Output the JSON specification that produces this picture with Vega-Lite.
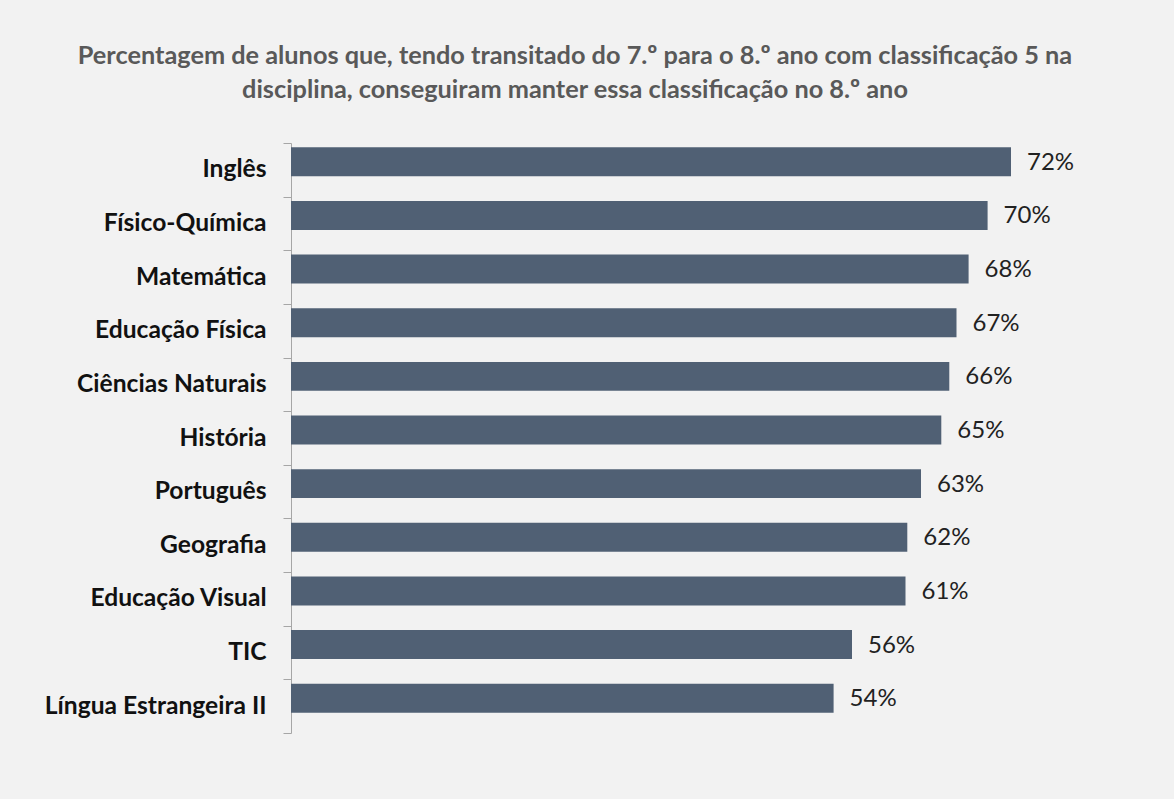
{
  "$schema": "https://vega.github.io/schema/vega-lite/v6.json",
  "autosize": {"type": "none"},
  "width": 870,
  "height": 590,
  "padding": {"left": 291, "top": 143, "right": 13, "bottom": 66},
  "background": "#F2F2F2",
  "title": {
    "text": ["Percentagem de alunos que, tendo transitado do 7.º para o 8.º ano com classificação 5 na", "disciplina, conseguiram manter essa classificação no 8.º ano"],
    "anchor": "middle",
    "frame": "group",
    "dx": -151,
    "offset": 27,
    "font": "Lato",
    "fontSize": 25.3,
    "fontWeight": "bold",
    "color": "#595959",
    "lineHeight": 34
  },
  "data": {
    "values": [
      {"disciplina": "Inglês", "valor": 0.7200},
      {"disciplina": "Físico-Química", "valor": 0.6966},
      {"disciplina": "Matemática", "valor": 0.6776},
      {"disciplina": "Educação Física", "valor": 0.6655},
      {"disciplina": "Ciências Naturais", "valor": 0.6583},
      {"disciplina": "História", "valor": 0.6503},
      {"disciplina": "Português", "valor": 0.6300},
      {"disciplina": "Geografia", "valor": 0.6163},
      {"disciplina": "Educação Visual", "valor": 0.6145},
      {"disciplina": "TIC", "valor": 0.5610},
      {"disciplina": "Língua Estrangeira II", "valor": 0.5426}
    ]
  },
  "encoding": {
    "y": {
      "field": "disciplina",
      "type": "nominal",
      "sort": null,
      "scale": {"paddingInner": 0, "paddingOuter": 0},
      "axis": {
        "title": null,
        "tickBand": "extent",
        "tickSize": 8,
        "tickColor": "#A6A6A6",
        "domainColor": "#A6A6A6",
        "labelFont": "Lato",
        "labelFontSize": 24.6,
        "labelFontWeight": "bold",
        "labelColor": "#111111",
        "labelPadding": 17,
        "labelLimit": 400
      }
    },
    "x": {
      "field": "valor",
      "type": "quantitative",
      "scale": {"domain": [0, 0.87], "nice": false, "zero": true},
      "axis": null
    }
  },
  "layer": [
    {
      "mark": {"type": "bar", "color": "#506074", "height": {"band": 0.54}, "yOffset": -8}
    },
    {
      "mark": {"type": "text", "align": "left", "baseline": "middle", "dx": 16, "yOffset": -7, "font": "Lato", "fontSize": 24, "color": "#222222"},
      "encoding": {
        "text": {"field": "valor", "type": "quantitative", "format": ".0%"}
      }
    }
  ],
  "config": {
    "view": {"stroke": null}
  }
}
